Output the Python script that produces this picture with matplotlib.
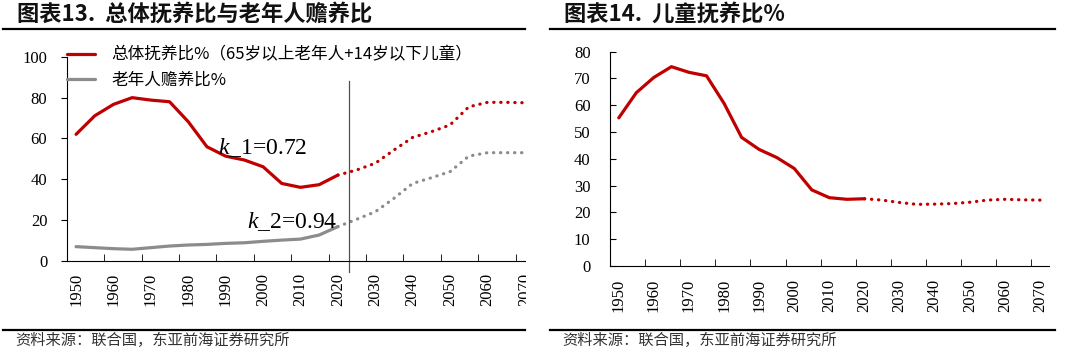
import matplotlib
matplotlib.use('Agg')
import matplotlib.pyplot as plt
from matplotlib.lines import Line2D
from matplotlib.patches import Rectangle

plt.rcParams['font.family'] = ['Liberation Serif', 'Noto Sans CJK SC']
plt.rcParams['mathtext.fontset'] = 'custom'
plt.rcParams['mathtext.rm'] = 'Liberation Serif'
plt.rcParams['mathtext.it'] = 'Liberation Serif:italic'

# # # # # # # # # # # # # # # # # # # # # # # #
# Dados (a cada 5 anos)
years_hist = [1950, 1955, 1960, 1965, 1970, 1975, 1980, 1985, 1990, 1995, 2000, 2005, 2010, 2015, 2020]
years_proj = [2020, 2025, 2030, 2035, 2040, 2045, 2050, 2055, 2060, 2065, 2070]

total_hist = [62.0, 71.1, 76.7, 80.0, 78.8, 78.0, 68.2, 55.9, 51.3, 49.4, 46.1, 37.9, 36.0, 37.3, 42.0]
total_proj = [42.0, 44.5, 47.8, 54.3, 60.5, 63.3, 66.6, 75.5, 77.7, 77.7, 77.5]

elderly_hist = [6.9, 6.4, 5.9, 5.6, 6.4, 7.2, 7.7, 8.0, 8.5, 8.8, 9.5, 10.1, 10.6, 12.6, 16.7]
elderly_proj = [16.7, 20.3, 24.0, 30.6, 37.9, 40.7, 43.7, 51.3, 53.0, 53.0, 53.0]

child_hist = [55.3, 64.7, 70.4, 74.4, 72.3, 71.0, 60.7, 48.0, 43.5, 40.5, 36.4, 28.4, 25.5, 24.9, 25.1]
child_proj = [25.1, 24.6, 23.7, 23.0, 23.1, 23.3, 23.8, 24.6, 24.9, 24.7, 24.6]

year_labels = list(range(1950, 2071, 10))
divider_year = 2023
k1_text = r'$k$_1=0.72'
k2_text = r'$k$_2=0.94'

RED = '#C00000'
GRAY = '#8C8C8C'
DOTTED = (0, (0.1, 2.1))
CJK = 'Noto Sans CJK SC'

W, H = 1080, 356
fig = plt.figure(figsize=(W / 100, H / 100), dpi=100)


def box(x0, y0, x1, y1):
    # pixels (origem no topo) -> coordenadas da figura
    return [x0 / W, 1 - y1 / H, (x1 - x0) / W, (y1 - y0) / H]


def estilo_eixo(ax, yticks, ydir):
    ax.spines['top'].set_visible(False)
    ax.spines['right'].set_visible(False)
    ax.set_xticks(year_labels)
    ax.set_xticklabels([str(a) for a in year_labels], rotation=90, fontsize=12)
    ax.set_xticks([a + 7.5 for a in year_labels[:-1]], minor=True)
    ax.tick_params(axis='x', which='major', length=0, pad=9)
    ax.tick_params(axis='x', which='minor', direction='in', length=5)
    ax.set_yticks(yticks)
    ax.tick_params(axis='y', direction=ydir, length=4, labelsize=12,
                   pad=10 if ydir == 'out' else 14)
    ax.set_ylim(yticks[0], yticks[-1])


# # # # # # # # # # # # # # # # # # # # # # # #
# Gráfico 13
ax1 = fig.add_axes(box(66.7, 56.9, 525.6, 260.7))
ax1.plot(years_hist, total_hist, color=RED, lw=2.3, solid_capstyle='round',
         label='总体抚养比%（65岁以上老年人+14岁以下儿童）')
ax1.plot(years_proj, total_proj, color=RED, lw=2.3, ls=DOTTED, dash_capstyle='round')
ax1.plot(years_hist, elderly_hist, color=GRAY, lw=2.3, solid_capstyle='round',
         label='老年人赡养比%')
ax1.plot(years_proj, elderly_proj, color=GRAY, lw=2.3, ls=DOTTED, dash_capstyle='round')
ax1.plot([divider_year, divider_year], [-5.5, 88], color='#505050', lw=0.9, clip_on=False)
ax1.set_xlim(1947.5, 2070.2)
estilo_eixo(ax1, [0, 20, 40, 60, 80, 100], 'out')

ax1.text(1988, 55.3, k1_text, fontsize=17, ha='left', va='center')
ax1.text(1995.6, 19.0, k2_text, fontsize=17, ha='left', va='center')

ax1.legend(loc='upper left', bbox_to_anchor=(0, 1.05), frameon=False,
           prop={'family': CJK, 'size': 12}, handlelength=1.7, handletextpad=1.0,
           borderpad=0, borderaxespad=0, labelspacing=0.5)

# # # # # # # # # # # # # # # # # # # # # # # #
# Gráfico 14
ax2 = fig.add_axes(box(610, 51.7, 1048.75, 266))
ax2.plot(years_hist, child_hist, color=RED, lw=2.3, solid_capstyle='round')
ax2.plot(years_proj, child_proj, color=RED, lw=2.3, ls=DOTTED, dash_capstyle='round')
ax2.set_xlim(1947.5, 2072.5)
estilo_eixo(ax2, [0, 10, 20, 30, 40, 50, 60, 70, 80], 'in')

# corta o painel da esquerda como na imagem original
fig.add_artist(Rectangle((526 / W, 0.05), 20 / W, 0.85, transform=fig.transFigure,
                         facecolor='white', edgecolor='none', zorder=10))

# títulos, linhas e fonte
fig.text(17 / W, 1 - 14 / H, '图表13.  总体抚养比与老年人赡养比', family=CJK,
         fontsize=16, fontweight='bold', va='center', color='#111111')
fig.text(564 / W, 1 - 14 / H, '图表14.  儿童抚养比%', family=CJK,
         fontsize=16, fontweight='bold', va='center', color='#111111')
for x0, x1 in [(3, 525), (550, 1055)]:
    for y in (28.5, 329.5):
        fig.add_artist(Line2D([x0 / W, x1 / W], [1 - y / H, 1 - y / H], color='black',
                              lw=1.6, transform=fig.transFigure, zorder=11))
fig.text(15 / W, 1 - 340 / H, '资料来源：联合国，东亚前海证券研究所', family=CJK,
         fontsize=11, va='center', color='#333333')
fig.text(562 / W, 1 - 340 / H, '资料来源：联合国，东亚前海证券研究所', family=CJK,
         fontsize=11, va='center', color='#333333')

fig.savefig('out.png', dpi=100, facecolor='white')
